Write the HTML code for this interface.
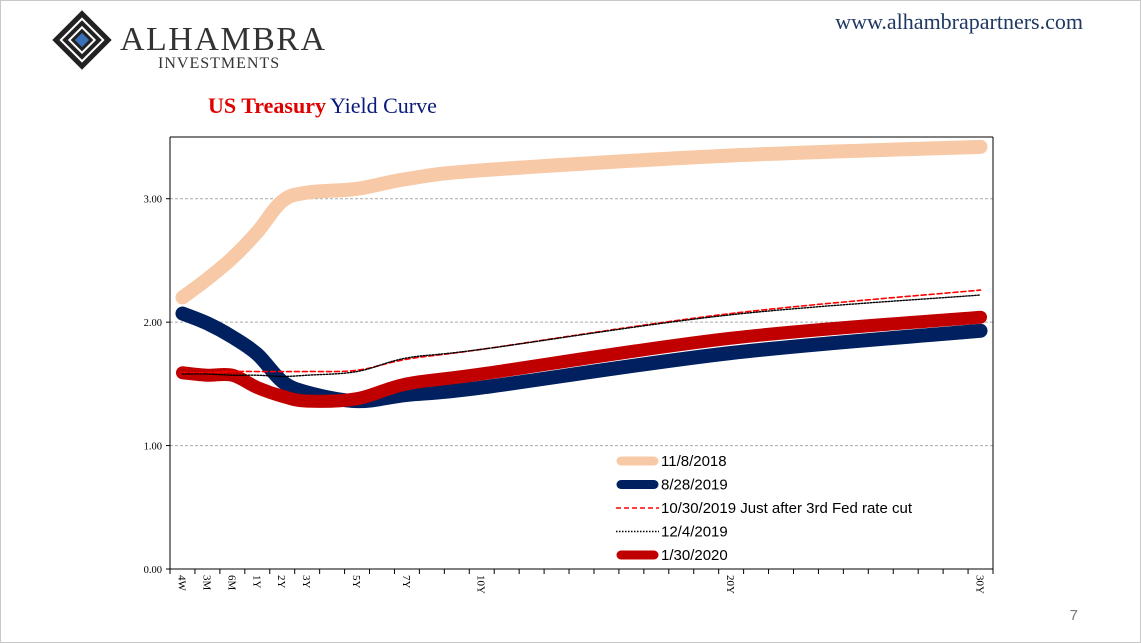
<!DOCTYPE html>
<html><head><meta charset="utf-8"><style>
body{margin:0;background:#fff;}
#wrap{position:relative;width:1141px;height:643px;overflow:hidden;background:#fff;font-family:"Liberation Sans",sans-serif;}
</style></head><body>
<div id="wrap">
<svg width="1141" height="643">
<rect x="0.5" y="0.5" width="1140" height="642" fill="none" stroke="#c8c8c8"/>
<g transform="translate(82,40)">
 <rect x="-21" y="-21" width="42" height="42" transform="rotate(45)" fill="#222"/>
 <rect x="-15" y="-15" width="30" height="30" transform="rotate(45)" fill="none" stroke="#fff" stroke-width="2"/>
 <rect x="-9" y="-9" width="18" height="18" transform="rotate(45)" fill="none" stroke="#fff" stroke-width="2"/>
 <rect x="-5" y="-5" width="10" height="10" transform="rotate(45)" fill="#3a70b8"/>
</g>
<text x="120" y="50" font-family="Liberation Serif, serif" font-size="34" fill="#333" textLength="205">ALHAMBRA</text>
<text x="158" y="68" font-family="Liberation Serif, serif" font-size="16" fill="#333" letter-spacing="1">INVESTMENTS</text>
<text x="1083" y="29" text-anchor="end" font-family="Liberation Serif, serif" font-size="22" fill="#1f3864">www.alhambrapartners.com</text>
<text x="208" y="113" font-family="Liberation Serif, serif" font-size="22"><tspan fill="#e00000" font-weight="bold">US Treasury</tspan><tspan fill="#0a1a7a" dx="4">Yield Curve</tspan></text>
<text x="1078" y="620" text-anchor="end" font-size="15" fill="#777">7</text>
<g id="grid"></g><g id="series"></g><g id="axes"></g><g id="legend"></g>
</svg>
</div>
<script>
const categories=["4W","3M","6M","1Y","2Y","3Y","5Y","7Y","10Y","20Y","30Y"];
const catIndex=[0,1,2,3,4,5,7,9,12,22,32];
const s2018=[2.20,2.35,2.52,2.73,2.98,3.05,3.08,3.16,3.23,3.35,3.42];
const s2019a=[2.07,1.99,1.88,1.74,1.52,1.43,1.36,1.41,1.47,1.75,1.93];
const s2019b=[1.59,1.59,1.60,1.60,1.60,1.60,1.61,1.70,1.78,2.07,2.26];
const s2019c=[1.58,1.58,1.57,1.57,1.56,1.57,1.60,1.71,1.78,2.06,2.22];
const s2020=[1.59,1.57,1.57,1.47,1.40,1.36,1.38,1.50,1.58,1.87,2.04];
const yTicks=[0,1,2,3];
const yTickLabels=["0.00","1.00","2.00","3.00"];
const legendLabels=["11/8/2018","8/28/2019","10/30/2019  Just after 3rd  Fed rate cut","12/4/2019","1/30/2020"];
const NS="http://www.w3.org/2000/svg";
const L=170,R=993,T=137,B=569,nCat=33,yMax=3.5;
const cw=(R-L)/nCat;
const xs=i=>L+cw*(i+0.5);
const ys=v=>B-(v/yMax)*(B-T);
function mk(tag,attrs,parent){const e=document.createElementNS(NS,tag);for(const k in attrs)e.setAttribute(k,attrs[k]);parent.appendChild(e);return e;}
const grid=document.getElementById('grid'),axes=document.getElementById('axes'),ser=document.getElementById('series'),leg=document.getElementById('legend');
yTicks.forEach((t,i)=>{
 if(t>0){const g=mk('line',{x1:L,x2:R,y1:ys(t),y2:ys(t),stroke:'#aaa','stroke-dasharray':'3,2'},grid);
 
 }
 const tl=mk('text',{x:L-8,y:ys(t)+4,'text-anchor':'end','font-size':'10.5','font-family':'Liberation Serif, serif'},axes);
 tl.textContent=yTickLabels[i];
 
 
 mk('line',{x1:L-4,x2:L,y1:ys(t),y2:ys(t),stroke:'#000'},axes);
});
const ax=mk('line',{x1:L,x2:L,y1:T,y2:B,stroke:'#000'},axes);


const ax2=mk('line',{x1:L,x2:R,y1:B,y2:B,stroke:'#000'},axes);


mk('line',{x1:R,x2:R,y1:T,y2:B,stroke:'#000'},axes);
mk('line',{x1:L,x2:R,y1:T,y2:T,stroke:'#000'},axes);
for(let i=0;i<=nCat;i++)mk('line',{x1:L+cw*i,x2:L+cw*i,y1:B,y2:B+5,stroke:'#000'},axes);
categories.forEach((c,i)=>{
 const x=xs(catIndex[i]);
 const t=mk('text',{x:0,y:0,transform:`translate(${x-4},${B+6}) rotate(90)`,'font-size':'11','font-family':'Liberation Serif, serif'},axes);
 t.textContent=c;
 
 
});
function smooth(pts){let d=`M${pts[0][0]},${pts[0][1]}`;
 for(let i=0;i<pts.length-1;i++){const p0=pts[i-1]||pts[i],p1=pts[i],p2=pts[i+1],p3=pts[i+2]||p2;
  const c1=[p1[0]+(p2[0]-p0[0])/6,p1[1]+(p2[1]-p0[1])/6],c2=[p2[0]-(p3[0]-p1[0])/6,p2[1]-(p3[1]-p1[1])/6];
  d+=`C${c1[0]},${c1[1]} ${c2[0]},${c2[1]} ${p2[0]},${p2[1]}`;}return d;}
const defs=[
 {v:s2018,c:'#f8c9a6',w:14,da:null,n:'series-2018-11-08'},
 {v:s2019a,c:'#002060',w:14,da:null,n:'series-2019-08-28'},
 {v:s2019b,c:'#ff0000',w:1.6,da:'5,3',n:'series-2019-10-30'},
 {v:s2019c,c:'#000',w:1.4,da:'1.5,1.5',n:'series-2019-12-04'},
 {v:s2020,c:'#c00000',w:13,da:null,n:'series-2020-01-30'}];
const order=[0,1,4,2,3];
order.forEach(k=>{const s=defs[k];
 const p=mk('path',{d:smooth(s.v.map((v,i)=>[xs(catIndex[i]),ys(v)])),fill:'none',stroke:s.c,'stroke-width':s.w,'stroke-linecap':'round','stroke-linejoin':'round'},ser);
 if(s.da)p.setAttribute('stroke-dasharray',s.da);
 
 
});
defs.forEach((s,i)=>{const y=461+i*23.5;
 const ln=mk('line',{x1:s.w>5?621:616,x2:s.w>5?654:659,y1:y,y2:y,stroke:s.c,'stroke-width':s.w>5?9:1.6,'stroke-linecap':s.w>5?'round':'butt'},leg);
 if(s.da)ln.setAttribute('stroke-dasharray',s.da);
 
 
 const t=mk('text',{x:661,y:y+5,'font-size':'15','fill':'#000','font-family':'Liberation Sans Narrow, Liberation Sans, sans-serif'},leg);
 t.textContent=legendLabels[i];
 
 
});
</script>
</body></html>
